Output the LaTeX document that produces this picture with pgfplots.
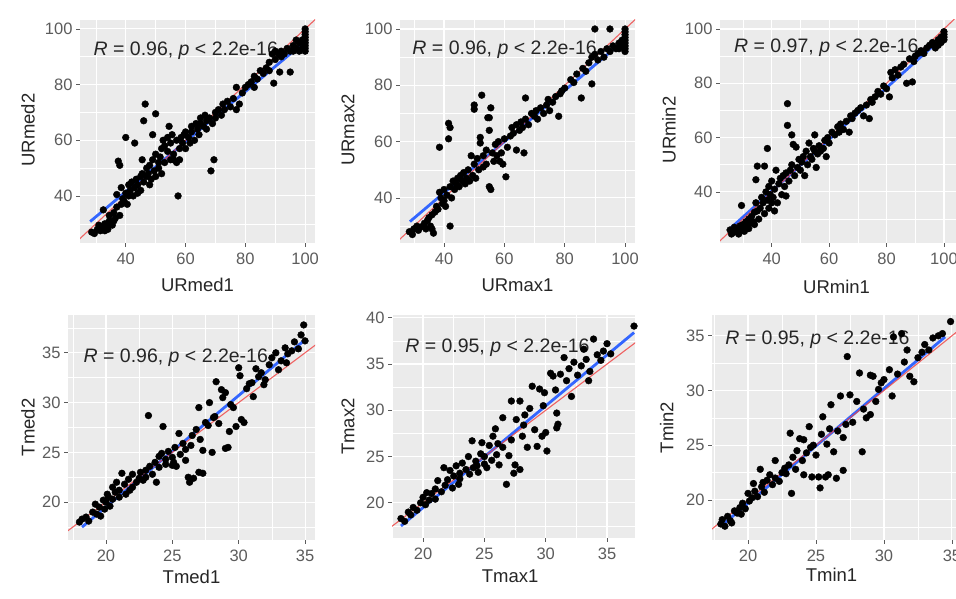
\documentclass[border=0pt]{standalone}
\usepackage{fontspec}
\setmainfont{Liberation Sans}
\usepackage{pgfplots}
\pgfplotsset{compat=1.18}

\definecolor{panelbg}{HTML}{EBEBEB}
\definecolor{tickgray}{HTML}{5C5C5C}
\definecolor{labgray}{HTML}{262626}
\definecolor{fitblue}{HTML}{3366FF}
\definecolor{idred}{HTML}{F04040}

\newcommand\ticksize{\fontsize{16.5}{18}\selectfont}
\newcommand\labsize{\fontsize{18.5}{20}\selectfont}
\newcommand\annsize{\fontsize{19.5}{21}\selectfont}

\pgfplotsset{
  ggpanel/.style={
    scale only axis, anchor=south west,
    axis background/.style={fill=panelbg},
    axis line style={draw=none},
    grid=both,
    major grid style={white, line width=1.1pt},
    minor grid style={white, line width=0.55pt},
    tick align=outside, xtick pos=bottom, ytick pos=left,
    major tick length=4pt, minor tick length=0pt,
    tick style={color=tickgray, line width=0.8pt},
    ticklabel style={font=\ticksize, text=tickgray},
    xticklabel style={yshift=-2pt},
    /pgf/number format/assume math mode=true,
    label style={font=\labsize, text=labgray},
  },
  pts/.style={only marks, mark=*, mark size=3.4pt, black},
  idline/.style={idred, opacity=0.8, line width=1.1pt},
  fitline/.style={fitblue, line width=2.8pt},
}
\tikzset{ann/.style={anchor=base west, font=\annsize, text=black!85}}

\begin{document}
\begin{tikzpicture}
\path[use as bounding box] (0,0) rectangle (956pt,599pt);

%% URmed
\begin{axis}[ggpanel, at={(80pt,356pt)}, width=235pt, height=223pt,
  xmin=24.7, xmax=103.3, ymin=23.1, ymax=103.2,
  xtick={40,60,80,100}, ytick={40,60,80,100},
  minor xtick={30,50,70,90}, minor ytick={30,50,70,90},
  xlabel={URmed1}, ylabel={URmed2},
  xlabel style={at={(axis description cs:0.5,-0.188)}, anchor=center},
  ylabel style={at={(axis description cs:-0.221,0.507)}, anchor=center}]
\node[ann] at (rel axis cs:0.043,0.843) {\textit{R} = 0.96, \textit{p} < 2.2e-16};
\addplot[pts] table {
28.6 27
29.5 26.5
30.5 28
31 29.5
31.5 27.5
32 28.5
32.5 35
33 27.5
33 30
33.5 29
34 28
34.5 31
34.5 33
35 30
35.5 29.5
36 31
36 34
36.5 32
37 40.5
37 36
37.5 52.5
38 51
38 33
38.5 37
38.5 43
39 39
39.5 38
40 61
40 41
40.5 37
41 40
41 44
41.5 42
42 45
42.5 40
43 59
43 43
43.5 46
44 41
44 44
45 47
45 42
45.5 53
45.5 48
46 67
46.5 73
46 45
47 50
47 47
47.5 48
48 51
48 44
48.5 46
49 53
49 62
49.5 49
50 69.5
50 55
50 47
51 52
51 50
51.5 54
52 57
52 48
52.5 60
53 58
53 52
54 61
54 56
54.5 65
55 59
55 53
55.5 62
56 55
56 53
57 60
57 52
57.5 40
58 57
58 53
58.5 61
59 59
59.5 62
60 63
60 57
61 61
61.5 59
62 65
62 63
63 60
63.5 66
64 64
64.5 62
65 68
65 66
66 65
66.5 69
67 67
67 64
68 68
68.5 49
69 66
69.5 53
70 70
70 68
71 71
72 69
72.5 73
73 71
74 74
75 72
76 75
77 79
77 71
78 73
79 77
80 79
81 80
82 81
83 83
83 79
84 82
85 85
86 84
87 86
88 88
88 85
89 91
89.5 80.5
90 92
90 89
91 91
91.5 84.5
92 90
92 92
93 91
94 93
95 84.5
95 92
96 94
97 93
98 95
99 96
100 100
100 99
100 98
100 97
100 96
100 95
100 94
100 93
100 92
99 93
98 92
97 96
96 92
};
\addplot[fitline] coordinates {(28.1,30.8) (100,95.5)};
\addplot[idline] coordinates {(0,0) (120,120)};
\end{axis}

%% URmax
\begin{axis}[ggpanel, at={(400pt,356pt)}, width=235pt, height=223pt,
  xmin=25.4, xmax=103.3, ymin=24.0, ymax=103.2,
  xtick={40,60,80,100}, ytick={40,60,80,100},
  minor xtick={30,50,70,90}, minor ytick={30,50,70,90},
  xlabel={URmax1}, ylabel={URmax2},
  xlabel style={at={(axis description cs:0.5,-0.188)}, anchor=center},
  ylabel style={at={(axis description cs:-0.221,0.507)}, anchor=center}]
\node[ann] at (rel axis cs:0.038,0.843) {\textit{R} = 0.96, \textit{p} < 2.2e-16};
\addplot[pts] table {
28.5 28
29.5 27
30 29
31 30
31.5 28.5
32 29.5
33 30
33.5 31
34 29
34.5 32
35 33
35.5 30
36 29
36 34
36.5 27.5
37 35
37.5 37
38 36
38.5 58
38.5 42
39 40
39.5 38
40 43
40 39
40.5 37
41 41
41.5 66.5
41.5 61
42 65
42 30
42 44
42.5 40
43 46
43.5 43
44 45
44.5 47
45 44
45.5 48
46 46
46.5 49
47 45
47.5 47
48 50
48.5 46
49 55
49.5 48
50 73
50 71.5
50 52
50.5 47
51 54
51.5 50
52 61.5
52 59.5
52.5 76.5
53 55
53 51
54 57
54 52
54.5 68.5
55 68.5
55.5 72
55 64
55 44
55.5 43
56 56
56.5 53
57 59
57.5 55
58 60
58.5 53
59 56
59.5 52
60 61
60.5 47.5
61 58
62 62
62.5 65
63 63
64 57
64 66
65 64
65.5 67
66 65
66.5 56
67 75.5
67 68
68 66
69 70
70 69
70.5 71
71 68
72 72
73 70
74 73
74.5 75
75 71
76 74
77 76
78 69
78.5 77
79 78
80 79
82 82
83 81
84 84
85.5 75.5
86 86
87 85
88 88
89 80.5
89 90
90 100
90 91
91 89
92 92
93 90
94 93
95 100
95 92
96 94
97 93
98 95
99 96
100 100
100 99
100 98
100 97
100 96
100 95
100 94
100 93
100 92
99 94
98 93
};
\addplot[fitline] coordinates {(28.7,31.6) (100,96.3)};
\addplot[idline] coordinates {(0,0) (120,120)};
\end{axis}

%% URmin
\begin{axis}[ggpanel, at={(720pt,356pt)}, width=236pt, height=223pt,
  xmin=22.0, xmax=104.2, ymin=21.2, ymax=103.3,
  xtick={40,60,80,100}, ytick={40,60,80,100},
  minor xtick={30,50,70,90}, minor ytick={30,50,70,90},
  xlabel={URmin1}, ylabel={URmin2},
  xlabel style={at={(axis description cs:0.494,-0.197)}, anchor=center},
  ylabel style={at={(axis description cs:-0.216,0.507)}, anchor=center}]
\node[ann] at (rel axis cs:0.045,0.852) {\textit{R} = 0.97, \textit{p} < 2.2e-16};
\addplot[pts] table {
25.5 26
26 24.5
26.5 25
27 27
27.5 25.5
28 26
28.5 24.5
29 27.5
29.5 35
29.5 26
30 28
30.5 25.5
31 29
31.5 27
32 30
32 26.5
32.5 28.5
33 31
33.5 29
34 32.5
34 28
34.5 44.5
34.5 36
35 49.5
35 33
35.5 30
36 34
36.5 38
37 36
37.5 49.5
37.5 32
38 40
38.5 56
38.5 37
39 42
39 34
39.5 39
40 44
40 36
40.5 38
41 41
41 33
41.5 48
42 36
42.5 43
43 45
43.5 39
44 46
44.5 42
45 47
45 38.5
45.5 72.5
45.5 64.5
46 44
46.5 48
47 61
47 50
47.5 57.5
48 46
48.5 56.5
49 49
49.5 52
50 48
50.5 51
51 53
51.5 46
52 55
52.5 50
53 58
53.5 53
54 52
54.5 56
55 61
55 55
55.5 49
56 54
56.5 57
57 55
58 56
58.5 59
59 53
59.5 60
60 58
61 62
62 61
63 64
63.5 62
64 65
65 63
66 66
67 62
67.5 68
68 67
69 69
70 70
71 71
72 68
73 72
74 67
74.5 74
75 73
76 75
77 77
78 76
79 79
80 78
81 75
81.5 84
82 82
83 85
84 83
85 86
86 87
87 80
88 89
89 80.5
89.5 88
90 90
91 91
92 92
93 91
94 93
95 94
96 95
97 94
98 96
99 97
100 98
100 99
100 97
100 96
99 95
98 94
97 93
};
\addplot[fitline] coordinates {(24.9,25.9) (99.7,97.1)};
\addplot[idline] coordinates {(0,0) (120,120)};
\end{axis}

%% Tmed
\begin{axis}[ggpanel, at={(68pt,59pt)}, width=247pt, height=225pt,
  xmin=17.14, xmax=35.75, ymin=16.2, ymax=38.8,
  xtick={20,25,30,35}, ytick={20,25,30,35},
  minor xtick={17.5,22.5,27.5,32.5}, minor ytick={17.5,22.5,27.5,32.5,37.5},
  xlabel={Tmed1}, ylabel={Tmed2},
  xlabel style={at={(axis description cs:0.5,-0.163)}, anchor=center},
  ylabel style={at={(axis description cs:-0.162,0.5)}, anchor=center}]
\node[ann] at (rel axis cs:0.049,0.79) {\textit{R} = 0.96, \textit{p} < 2.2e-16};
\addplot[pts] table {
18 18
18.2 18.3
18.5 18.5
18.7 18.1
19 19
19.2 19.8
19.3 18.8
19.5 19.5
19.6 18.6
19.8 20.2
20 20
20.1 20.8
20.3 19.6
20.5 21.5
20.5 20.3
20.7 21
20.8 22
21 21.2
21 20.5
21.2 22.9
21.4 21.8
21.5 20.8
21.7 22.3
22 22.8
22 21.5
22.3 22
22.5 22.4
22.8 22.2
23 23.2
23 22.5
23.2 28.7
23.3 23.6
23.5 22.8
23.7 24
23.8 22
24 24.6
24 23.5
24.3 27.6
24.5 24.3
24.5 23.8
24.7 25.1
25 24.5
25 23.7
25.1 24
25.2 25.5
25.3 23.6
25.5 26.9
25.6 24.8
25.8 25.9
26 25.3
26 24.2
26.2 22.5
26.3 22
26.5 26.7
26.6 22.4
26.8 27.3
27 23
27 29.5
27.1 26.3
27.3 22.9
27.3 25.2
27.5 28
27.7 27.7
27.8 30
28 25
28.2 28.6
28.3 32.1
28.5 27.9
28.7 31.3
28.8 30.5
29 25.4
29 31
29.2 25.5
29.3 27.1
29.4 29.8
29.6 29.5
29.8 27.6
30 33.5
30.1 32.7
30.2 28.3
30.4 28
30.6 31.4
31 32
31.3 33.4
31.5 32.6
31.7 33
32 32.3
32.3 33.8
32.5 34.5
32.8 35
33 33.3
33.2 34.2
33.5 35.5
33.7 34.9
34 35.2
34.2 36.1
34.5 35.4
34.7 36.8
34.9 37.8
19.9 19.3
20.2 20.5
21.8 21.2
22.6 23
24.2 24.9
26.4 25.7
28.1 28.5
31.9 31.8
33.6 34
35 36.2
31.1 30.6
30.8 31.9
};
\addplot[fitline] coordinates {(18.2,17.5) (34.9,36.2)};
\addplot[idline] coordinates {(0,0) (50,50)};
\end{axis}

%% Tmax
\begin{axis}[ggpanel, at={(392pt,61pt)}, width=243pt, height=223pt,
  xmin=17.47, xmax=37.28, ymin=16.2, ymax=40.3,
  xtick={20,25,30,35}, ytick={20,25,30,35,40},
  minor xtick={17.5,22.5,27.5,32.5}, minor ytick={17.5,22.5,27.5,32.5,37.5},
  xlabel={Tmax1}, ylabel={Tmax2},
  xlabel style={at={(axis description cs:0.486,-0.173)}, anchor=center},
  ylabel style={at={(axis description cs:-0.181,0.5)}, anchor=center}]
\node[ann] at (rel axis cs:0.04,0.83) {\textit{R} = 0.95, \textit{p} < 2.2e-16};
\addplot[pts] table {
18.2 18.3
18.5 18
18.8 19
19 18.7
19.2 19.5
19.5 19.2
19.8 20
20 20.6
20.2 19.8
20.5 20.3
20.7 21
21 21.5
21 20.4
21.2 22.4
21.5 21.2
21.7 23.8
21.8 21.9
22 22.5
22.2 23.5
22.4 21.6
22.5 22.9
22.7 24
23 23.2
23 22.6
23.2 24.3
23.5 23.6
23.7 25
23.8 23.1
24 26.7
24.1 23.8
24.3 24.5
24.5 23.3
24.7 25.3
24.8 26.5
25 24.2
25 25
25.2 23.8
25.4 26.2
25.6 24.6
25.7 27.2
25.9 28
26 25.2
26.2 24.1
26.5 29.2
26.5 26
26.8 22
27 25.1
27.2 31
27.2 26.8
27.4 23.2
27.5 24.1
27.6 29
27.9 23.6
27.9 31
28.1 27.2
28.3 29.5
28.5 26
28.7 30.2
28.9 32.6
29.1 27.9
29.3 26.1
29.5 32.3
29.7 27.2
29.8 30.5
30 27.6
30.1 25.6
30.4 34
30.6 33.7
30.8 32.2
30.9 28.1
30.9 29.7
31 28.5
31.2 33.9
31.5 35.7
31.7 33.2
31.9 34.5
32.1 31.5
32.3 35.2
32.6 33.8
32.9 34.8
33.1 36.6
33.3 35.5
33.5 33.2
33.6 34.2
33.9 37.7
34.2 36
34.5 35.4
34.7 36.4
35 37.2
35.3 36.1
37.2 39.1
20.3 21.1
22.9 22
24.4 24
26.1 26.4
28.2 28.4
29.9 31.9
};
\addplot[fitline] coordinates {(18.2,17.5) (37.2,38.4)};
\addplot[idline] coordinates {(0,0) (50,50)};
\end{axis}

%% Tmin
\begin{axis}[ggpanel, at={(712pt,59pt)}, width=244pt, height=225pt,
  xmin=17.35, xmax=35.3, ymin=16.34, ymax=36.9,
  xtick={20,25,30,35}, ytick={20,25,30,35},
  minor xtick={17.5,22.5,27.5,32.5}, minor ytick={17.5,22.5,27.5,32.5},
  xlabel={Tmin1}, ylabel={Tmin2},
  xlabel style={at={(axis description cs:0.49,-0.156)}, anchor=center},
  ylabel style={at={(axis description cs:-0.186,0.5)}, anchor=center}]
\node[ann] at (rel axis cs:0.04,0.867) {\textit{R} = 0.95, \textit{p} < 2.2e-16};
\addplot[pts] table {
18 17.8
18.1 18.2
18.3 17.6
18.5 18.5
18.7 18.1
18.8 17.9
19 19
19.2 18.8
19.4 19.3
19.6 19.7
19.8 19.2
20 20.6
20.1 19.9
20.3 20.2
20.4 21.5
20.5 20.8
20.7 20.3
20.9 22.8
21 21.2
21.2 20.7
21.4 21.8
21.6 22.3
21.8 21.4
22 23.6
22 22
22.3 21.7
22.5 22.5
22.7 22.9
23 23.2
23.1 26.1
23.2 20.6
23.3 23.9
23.5 22.8
23.6 24.5
23.8 25.6
24 23.6
24.1 25.5
24.1 22.3
24.3 24.3
24.5 26.7
24.7 22.1
24.8 25
25 24.1
25.2 22.1
25.3 21.1
25.4 26
25.5 27.6
25.7 22.1
25.8 25.1
25.9 22.3
26 26.5
26.1 28.7
26.3 24.4
26.5 21.98
26.6 26.3
26.8 29.5
27 22.7
27 25.7
27.2 26.9
27.3 33.1
27.5 29.6
27.7 27.1
28 29
28.2 31.6
28.4 24.4
28.5 28.3
28.7 27.5
29 27.8
29 31.4
29.2 31.3
29.4 29
29.6 30.1
29.8 30.7
30 31
30.4 31.9
30.6 29.5
30.7 34.9
31 31.5
31.3 35.2
31.5 32.6
31.7 33.7
31.9 31.3
32.2 30.8
32.5 33
32.8 33.5
33 34.2
33.3 33.7
33.6 34.8
34 35
34.3 35.2
34.9 36.3
19.5 18.7
21.1 21.6
22.8 22.4
24.6 24.8
};
\addplot[fitline] coordinates {(18,17.6) (34.5,34.9)};
\addplot[idline] coordinates {(0,0) (50,50)};
\end{axis}
\end{tikzpicture}
\end{document}
